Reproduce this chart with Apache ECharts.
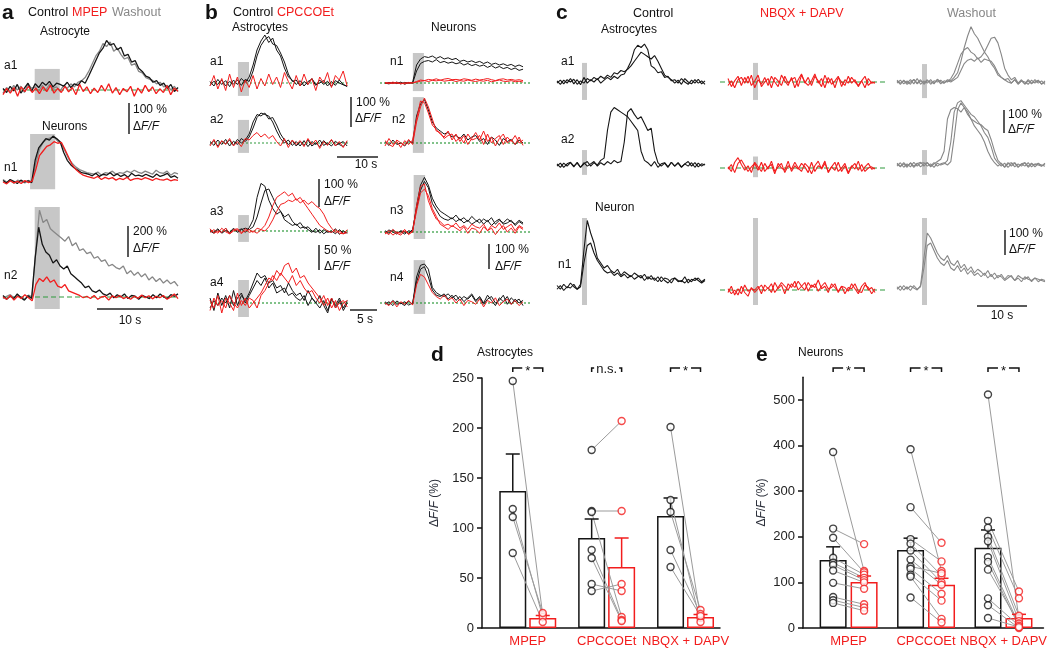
<!DOCTYPE html>
<html><head><meta charset="utf-8">
<script src="https://cdn.jsdelivr.net/npm/echarts@6/dist/echarts.min.js"></script>
<style>html,body{margin:0;padding:0;background:#fff}#c{width:1050px;height:663px}</style>
</head><body><div id="c"></div>
<script>
// ---------------- DATA: panel a (ΔF/F %, equally spaced samples) ----------------
const a_a1_wash=[-10,8,-5,15,0,12,-8,20,5,10,-5,15,0,18,5,10,-3,15,5,20,10,25,30,40,60,85,110,125,150,140,155,125,135,115,100,105,80,85,60,55,40,35,30,20,25,10,15,0,12,-5];
const a_a1_ctl=[5,-8,12,-3,18,-10,6,22,-5,20,8,25,15,28,10,22,18,12,25,8,20,15,30,22,45,70,95,120,135,160,145,150,130,138,110,115,90,95,70,60,45,40,25,30,15,22,5,18,-5,8];
const a_a1_mpep=[-15,5,-10,8,-20,10,-5,12,-8,6,-12,10,-5,15,-10,5,-8,12,-6,8,-15,18,-5,10,-12,6,-8,15,-4,20,-10,8,-15,5,-6,12,-20,6,-10,15,-5,10,-12,4,-8,14,-15,6,-4];
const a_n1_wash=[8,0,5,-4,6,2,-3,5,0,60,105,128,138,142,145,132,125,100,75,60,48,40,35,30,28,25,32,22,30,28,35,25,30,28,35,30,38,32,28,35,30,25,38,30,28,35,22,30,26];
const a_n1_ctl=[5,-3,8,2,-5,6,0,4,-2,70,110,125,140,135,148,140,130,95,70,55,45,38,30,28,25,20,28,18,25,22,30,20,26,18,24,15,28,20,22,18,25,20,15,26,18,22,28,15,20,12];
const a_n1_mpep=[0,-6,4,-3,2,-5,5,-2,3,40,85,100,115,120,130,125,128,105,80,55,40,30,22,18,15,12,18,8,15,10,14,6,12,8,15,5,10,12,8,14,10,5,12,8,6,10,4,8,5];
const a_n2_wash=[-10,5,15,-5,10,0,-15,12,0,300,560,480,500,440,420,400,380,360,390,330,350,300,310,280,290,250,260,230,240,200,210,190,180,200,150,170,140,160,130,150,110,130,100,120,90,110,85,100,70];
const a_n2_ctl=[10,-15,5,-10,20,-5,-20,8,-10,250,450,340,290,270,220,240,200,180,200,150,130,110,90,60,70,40,30,45,20,10,25,-5,15,0,20,-10,10,5,-15,10,0,-10,15,-5,20,0,-10,15,5,20];
const a_n2_mpep=[0,-15,10,-20,5,-10,15,-5,-25,80,120,100,130,95,110,70,60,80,40,30,20,10,-5,5,-10,10,-15,0,5,-20,8,-5,10,-10,0,-15,5,-8,12,-5,8,-12,5,-5,10,-15,0,20,-10];
// ---------------- DATA: panel b ----------------
const b_a1_ctl1=[5,-10,12,-5,8,-12,10,-5,15,2,20,60,110,140,160,135,150,110,90,50,20,10,-5,8,-10,5,12,-8,10,-5,6,-12,8,0,-6,-10];
const b_a1_ctl2=[-8,6,-5,10,-10,5,-3,10,-8,12,5,40,90,125,145,155,130,125,100,70,30,5,10,-10,5,-5,15,-5,0,8,-10,5,-8,10,-5,-12];
const b_a1_cpc=[-10,25,-20,15,-25,30,-15,20,-30,10,-15,25,-20,15,-10,30,-5,20,-15,35,5,-20,25,-10,30,-5,15,-25,20,0,35,-15,25,10,40,-10];
const b_a2_ctl1=[5,-8,10,-5,12,-10,6,-5,15,5,20,50,85,100,95,90,70,40,15,0,10,-8,5,-10,8,-12,5,-5,10,-8,0,-10,6,-5,-12,4];
const b_a2_ctl2=[-5,8,-10,6,-2,10,-8,12,0,10,30,70,95,90,100,80,85,60,30,10,-5,8,-10,5,-8,10,-10,0,-12,8,-5,10,-8,-2,5,-10];
const b_a2_cpc=[-10,12,-15,8,-5,15,-10,5,-12,15,10,25,35,20,30,15,25,5,-10,15,-15,10,-5,8,-12,15,-5,10,-18,5,-8,12,-10,5,-15,8];
const b_a3_ctl1=[0,-8,5,-5,10,-10,5,0,8,-5,12,40,120,170,160,110,80,60,70,40,30,20,25,10,15,5,-5,10,-8,5,-5,0,-10,5,-8,-5];
const b_a3_ctl2=[5,-5,8,-8,2,-5,10,-5,5,10,5,15,50,100,145,150,120,90,70,50,60,35,20,30,10,15,0,-5,5,-10,0,-5,8,-12,0,-8];
const b_a3_cpc1=[-5,5,-8,10,-3,-10,5,8,-5,0,5,-5,10,5,20,50,90,120,130,140,125,135,110,120,100,80,60,40,20,10,0,-5,5,-8,-10,-5];
const b_a3_cpc2=[8,-8,0,-5,10,-10,0,5,-10,8,-5,0,-8,5,0,15,40,70,95,100,110,105,115,100,110,95,105,90,80,60,30,10,-5,0,-10,5];
const b_a4_ctl1=[10,-15,20,-5,15,-10,25,-5,15,5,20,40,60,50,55,40,45,30,35,20,40,25,15,20,5,25,10,0,15,-5,-20,10,-10,5,-15,0];
const b_a4_ctl2=[-10,5,-5,10,0,15,-5,10,20,0,15,30,45,35,50,30,40,20,25,30,15,20,10,5,15,-5,10,0,-10,5,-15,8,-5,10,-10,5];
const b_a4_cpc1=[5,-10,15,-20,10,0,-15,20,-5,10,-10,0,10,20,35,50,45,65,55,75,80,60,70,50,55,40,30,20,10,-5,10,-10,5,-15,0,5];
const b_a4_cpc2=[-15,10,-5,5,-10,15,0,-10,5,-5,10,5,-10,15,25,40,55,45,60,50,40,55,35,45,30,20,25,10,0,15,-5,10,-10,0,5,-8];
const b_n1_ctl1=[0,-3,2,-2,3,-4,1,2,60,80,88,85,90,82,88,80,84,78,82,72,76,70,74,68,72,65,70,62,66,60,64,58,62,55,60,54];
const b_n1_ctl2=[-2,2,-1,3,-3,2,0,-1,40,65,72,75,70,78,68,72,66,70,64,68,60,65,58,62,56,60,52,58,50,55,48,52,45,50,42,46];
const b_n1_cpc1=[2,-2,3,-1,0,-3,2,0,5,10,8,12,10,14,9,13,15,11,12,10,14,12,9,13,10,12,15,11,8,12,14,10,12,9,11,8];
const b_n1_cpc2=[-1,1,-2,2,-3,1,-1,1,3,6,8,5,9,7,10,6,8,9,5,8,6,10,7,5,8,6,9,4,7,10,6,5,8,4,6,3];
const b_n2_ctl=[5,-8,10,-5,0,-10,8,0,90,130,145,110,70,50,40,30,35,20,25,15,30,10,20,25,5,15,-5,20,10,-8,15,5,12,-5,10,0];
const b_n2_cpc1=[-10,15,-5,5,-15,8,-5,10,80,140,135,100,60,45,30,20,40,10,30,5,25,-5,15,35,10,40,5,20,-10,15,30,0,10,-5,20,-8];
const b_n2_cpc2=[8,-5,-12,10,0,-8,12,-5,70,120,150,120,80,40,35,15,25,30,5,20,0,30,10,15,25,-5,30,0,15,25,-5,20,5,25,0,10];
const b_n3_ctl1=[5,-5,8,-3,2,-8,5,0,100,180,210,180,130,100,80,70,60,50,65,45,55,40,60,45,35,50,40,55,30,45,35,50,40,30,45,35];
const b_n3_ctl2=[-5,8,0,-8,5,0,-5,10,90,160,195,170,110,85,60,50,45,55,40,50,35,45,30,40,50,30,45,25,40,50,30,35,45,25,40,30];
const b_n3_cpc1=[0,-10,10,-5,-12,5,-8,0,100,175,185,120,80,50,40,25,30,20,35,15,25,10,30,20,15,30,5,25,15,35,10,20,30,5,25,15];
const b_n3_cpc2=[-8,5,-12,0,-5,10,-10,5,80,150,165,140,90,60,30,20,10,25,15,5,20,-5,15,10,-5,20,5,15,-10,10,25,0,15,-5,20,10];
const b_n4_ctl1=[5,-8,10,-5,0,-10,8,-5,100,145,150,130,60,40,30,25,35,20,30,10,25,15,30,5,20,-5,15,25,0,10,30,-5,20,5,15,-10];
const b_n4_ctl2=[-5,5,-10,8,-3,5,-8,0,80,130,140,100,50,30,25,35,15,30,10,25,5,20,35,10,25,0,30,10,-10,20,5,25,-5,15,0,10];
const b_n4_cpc=[0,-10,8,-15,5,-5,10,-8,70,110,100,70,40,25,15,30,10,20,0,15,-10,10,5,-5,15,-15,10,0,20,-10,5,15,-5,10,-10,5];
// ---------------- DATA: panel c ----------------
const c_a1_ctl1=[5,-10,8,-5,15,-8,10,-12,20,-5,10,0,15,-5,8,20,10,25,15,30,35,60,90,140,160,150,165,140,70,60,40,45,20,25,5,10,-5,15,0,-10,8,-5,12,-8,5];
const c_a1_ctl2=[-5,8,-8,10,0,12,-10,5,-5,15,5,20,10,25,15,30,20,40,35,50,45,55,70,90,110,130,120,110,100,115,90,60,30,20,10,-5,8,-10,15,0,-8,10,-5,5,-10];
const c_a1_nb1=[15,-20,5,25,-15,20,-5,30,-25,10,-10,20,-15,25,0,-20,30,5,-15,20,-25,10,35,-5,20,-15,25,5,-20,30,-5,15,-25,20,0,-15,25,-5,10,-20,5,25,-15,0,-5];
const c_a1_nb2=[-15,5,-25,10,20,-5,25,-15,5,30,-20,0,15,-25,20,5,-15,25,-5,10,20,-20,30,0,-15,5,35,-5,15,-25,20,-10,5,25,-20,10,-5,20,0,-15,5,-25,15,-5,0];
const c_a1_w1=[5,-10,8,-5,10,-8,15,-10,5,-5,10,-8,12,0,-5,10,5,20,40,90,150,200,240,210,190,160,130,110,80,60,30,20,10,15,-5,10,-10,5,-8,10,-5,0,8,-10,5];
const c_a1_w2=[-5,8,-8,5,-10,12,-5,10,-10,5,0,-5,10,-8,5,0,15,40,80,120,140,150,130,120,100,110,130,160,190,195,170,120,60,30,10,20,-5,10,-10,5,-8,10,-5,5,-10];
const c_a1_w3=[8,-5,5,-10,0,10,-8,5,-5,10,-10,5,0,8,-5,5,0,10,20,50,80,95,100,90,105,85,100,95,90,70,40,20,10,0,-5,10,-8,5,0,-10,8,-5,5,-8,0];
const c_a2_ctl1=[5,-10,8,-5,10,-8,12,-10,5,15,-5,10,0,20,30,150,230,250,240,230,220,210,190,170,150,60,20,10,-5,15,-10,5,10,-8,12,-5,8,-10,5,15,-5,10,-8,5,0];
const c_a2_ctl2=[-5,8,-10,5,12,-5,8,-10,10,-5,5,15,-5,10,0,15,5,20,10,15,100,230,245,220,200,210,180,150,160,60,10,-5,8,-10,12,-5,10,-8,5,-5,10,-10,8,-5,5];
const c_a2_nb1=[5,-15,25,45,15,-10,10,-20,25,5,-15,20,-5,30,-15,5,20,-20,10,-5,25,0,-15,20,5,-25,10,30,-5,20,-15,5,25,-15,0,20,-20,10,-5,30,-15,5,20,-5,0];
const c_a2_nb2=[-5,15,-20,20,35,10,-15,5,20,-10,25,-15,5,15,-25,20,0,-10,30,-15,10,-5,20,5,-20,25,-15,10,0,30,-20,5,-10,25,-15,10,-25,5,20,-10,15,-15,0,5,-5];
const c_a2_w1=[5,-8,10,-5,8,-10,5,12,-5,10,-8,5,15,25,60,200,240,250,245,230,250,220,200,170,150,130,100,60,30,10,-5,8,-10,5,10,-8,5,-5,10,-10,5,0,8,-5,5];
const c_a2_w2=[-5,10,-10,5,-8,12,-5,8,10,-5,5,-10,8,0,5,20,100,230,270,280,260,240,220,210,190,170,140,120,80,30,10,-5,8,-10,5,10,-8,5,-5,10,-8,5,0,-5,8];
const c_a2_w3=[8,-5,5,-10,10,-5,8,-8,5,10,-5,10,-5,5,10,0,15,120,240,270,250,230,200,190,180,175,160,150,110,60,20,5,-8,10,-5,8,-10,5,10,-5,8,-8,5,0,-5];
const c_n1_ctl1=[10,-5,15,0,20,5,-5,15,150,270,220,180,120,100,80,90,70,60,75,50,65,55,45,60,50,40,55,35,50,30,45,25,40,35,20,40,30,25,45,20,35,30,40,25,35];
const c_n1_ctl2=[-5,10,-10,5,0,15,-5,5,100,170,180,140,110,90,70,60,65,50,60,45,55,40,50,35,45,50,30,45,35,40,25,45,30,20,35,40,25,30,20,35,25,40,30,20,30];
const c_n1_nb1=[-10,15,-20,5,-15,20,-5,5,0,15,-15,20,5,25,-10,10,30,15,0,25,10,35,15,0,30,10,25,-5,15,30,5,10,25,-10,15,10,-5,25,5,-15,15,30,0,10,-10];
const c_n1_nb2=[5,-15,0,-20,15,-10,-25,10,-10,5,20,-5,10,-10,30,5,20,-15,25,10,35,0,15,30,-5,20,10,40,5,15,-10,25,10,-5,15,-15,10,5,25,-5,-10,20,10,-15,5];
const c_n1_w1=[5,-10,10,-5,8,0,-8,10,120,220,200,170,140,120,110,130,100,90,110,80,95,70,85,60,75,65,50,70,45,60,40,55,35,50,45,30,50,40,35,45,25,40,35,30,25];
const c_n1_w2=[-5,8,-8,5,-10,10,-5,5,80,170,180,150,120,100,90,110,80,70,90,65,80,55,70,50,60,45,60,40,55,35,50,45,30,40,50,30,40,25,45,35,30,40,25,35,30];
// ---------------- DATA: panels d, e ----------------
const groupNames=['MPEP','CPCCOEt','NBQX + DAPV'];
const dTicks=[0,50,100,150,200,250];
const dCtlMean=[137,90,112], dDrugMean=[10,61,11];
const dCtlErr=[174,109,130], dDrugErr=[12.5,90,13.5];
const dCtl=[[247,119,111,75],[178,117,116,78,70,44,37],[201,128,116,78,61]];
const dDrug=[[13,11,15,6],[207,117,11,8,7,37,44],[10,6,18,14,12]];
const dSig=['*','n.s.','*'];
const eTicks=[0,100,200,300,400,500];
const eCtlMean=[149,171,176], eDrugMean=[101,95,22];
const eCtlErr=[178,197,215], eDrugErr=[114,109,30];
const eCtl=[[386,218,198,154,143,138,126,99,68,61,55],[392,265,195,185,170,150,135,130,117,113,67],[512,235,220,200,190,155,145,128,65,50,22]];
const eDrug=[[125,184,122,117,110,105,100,86,52,45,38],[125,187,146,115,100,95,120,75,60,20,12],[20,80,65,27,15,8,3,10,5,0,2]];
const eSig=['*','*','*'];

// ---------------- BUILD ----------------
const FF='"Liberation Sans", Arial, Helvetica, sans-serif';
const K='#151515', R='#f21d1d', GY='#878787', GN='#2f9a3d', ST='#c7c7c7';
const grids=[], xAxes=[], yAxes=[], series=[], gfx=[];

function panel(o){
  const gi=grids.length;
  grids.push({left:o.x0,width:o.x1-o.x0,top:o.baseY-o.yMax*o.pxPer,height:(o.yMax-o.yMin)*o.pxPer});
  xAxes.push({gridIndex:gi,type:'value',min:o.t0,max:o.t1,show:false});
  yAxes.push({gridIndex:gi,type:'value',min:o.yMin,max:o.yMax,show:false});
  series.push({type:'line',xAxisIndex:gi,yAxisIndex:gi,z:1,silent:true,symbol:'none',
    data:o.base?[[o.t0,0],[o.t1,0]]:[[o.t0,0]],
    lineStyle:o.base?{color:GN,width:1.2,type:o.base==='dotted'?[2,2]:[5,3]}:{opacity:0},
    markArea:{silent:true,itemStyle:{color:o.stimColor||ST},data:[[{xAxis:o.stim[0],yAxis:o.stim[2]},{xAxis:o.stim[1],yAxis:o.stim[3]}]]}});
  o.traces.forEach(([arr,color])=>{
    const dt=o.dur/(arr.length-1);
    series.push({type:'line',xAxisIndex:gi,yAxisIndex:gi,z:3,symbol:'none',silent:true,
      lineStyle:{color,width:o.lw||1},data:arr.map((v,i)=>[i*dt,v])});
  });
}
// panel a
panel({x0:3,x1:178,t0:0,t1:26.5,dur:26.5,baseY:90,pxPer:0.31,yMin:-60,yMax:200,stim:[4.8,8.6,68,-32],base:'dashed',lw:1.3,traces:[[a_a1_wash,GY],[a_a1_ctl,K],[a_a1_mpep,R]]});
panel({x0:3,x1:178,t0:0,t1:26.5,dur:26.5,baseY:182,pxPer:0.31,yMin:-50,yMax:200,stim:[4.1,7.9,155,-23],base:null,lw:1.3,traces:[[a_n1_wash,GY],[a_n1_ctl,K],[a_n1_mpep,R]]});
panel({x0:3,x1:178,t0:0,t1:26.5,dur:26.5,baseY:297,pxPer:0.155,yMin:-100,yMax:620,stim:[4.8,8.6,580,-77],base:'dashed',lw:1.3,traces:[[a_n2_wash,GY],[a_n2_ctl,K],[a_n2_mpep,R]]});
// panel b
panel({x0:210,x1:350,t0:0,t1:34.1,dur:33.4,baseY:83,pxPer:0.30,yMin:-60,yMax:200,stim:[6.8,9.5,70,-43],base:'dotted',traces:[[b_a1_ctl1,K],[b_a1_ctl2,K],[b_a1_cpc,R]]});
panel({x0:210,x1:350,t0:0,t1:34.1,dur:33.4,baseY:143,pxPer:0.30,yMin:-60,yMax:150,stim:[6.8,9.5,77,-33],base:'dotted',traces:[[b_a2_ctl1,K],[b_a2_ctl2,K],[b_a2_cpc,R]]});
panel({x0:210,x1:350,t0:0,t1:25.9,dur:25.4,baseY:231,pxPer:0.28,yMin:-60,yMax:200,stim:[5.2,7.2,57,-39],base:'dotted',traces:[[b_a3_ctl1,K],[b_a3_ctl2,K],[b_a3_cpc1,R],[b_a3_cpc2,R]]});
panel({x0:210,x1:350,t0:0,t1:25.9,dur:25.4,baseY:303,pxPer:0.5,yMin:-40,yMax:110,stim:[5.2,7.2,46,-28],base:'dotted',traces:[[b_a4_ctl1,K],[b_a4_ctl2,K],[b_a4_cpc1,R],[b_a4_cpc2,R]]});
panel({x0:380,x1:530,t0:-1.22,t1:35.4,dur:33.7,baseY:83,pxPer:0.30,yMin:-40,yMax:130,stim:[6.8,9.5,100,-27],base:'dotted',traces:[[b_n1_ctl1,K],[b_n1_ctl2,K],[b_n1_cpc1,R],[b_n1_cpc2,R]]});
panel({x0:380,x1:530,t0:-1.22,t1:35.4,dur:33.7,baseY:143,pxPer:0.30,yMin:-50,yMax:180,stim:[6.8,9.5,153,-33],base:'dotted',traces:[[b_n2_ctl,K],[b_n2_cpc1,R],[b_n2_cpc2,R]]});
panel({x0:380,x1:530,t0:-1.22,t1:35.4,dur:33.7,baseY:232,pxPer:0.26,yMin:-50,yMax:240,stim:[7.0,9.8,219,-27],base:'dotted',traces:[[b_n3_ctl1,K],[b_n3_ctl2,K],[b_n3_cpc1,R],[b_n3_cpc2,R]]});
panel({x0:380,x1:530,t0:-1.22,t1:35.4,dur:33.7,baseY:303,pxPer:0.26,yMin:-50,yMax:180,stim:[7.0,9.8,165,-42],base:'dotted',traces:[[b_n4_ctl1,K],[b_n4_ctl2,K],[b_n4_cpc,R]]});
// panel c
const cCols=[{x0:557,x1:705,t0:0,t1:29.6,dur:29.6,base:null},{x0:720,x1:885,t0:-1.6,t1:31.4,dur:29.4,base:'dashed'},{x0:897,x1:1045,t0:0,t1:29.6,dur:29.6,base:null}];
const cRows=[{baseY:[82,82,82],pxPer:0.23,yMin:-80,yMax:260,stim:[[5,6,83,-78],[5,6,83,-78],[5,6,78,-70]],
  tr:[[[c_a1_ctl1,K],[c_a1_ctl2,K]],[[c_a1_nb1,R],[c_a1_nb2,R]],[[c_a1_w1,GY],[c_a1_w2,GY],[c_a1_w3,GY]]]},
 {baseY:[165,168,165],pxPer:0.23,yMin:-60,yMax:300,stim:[[5,6,65,-43],[5,6,50,-40],[5,6,65,-43]],
  tr:[[[c_a2_ctl1,K],[c_a2_ctl2,K]],[[c_a2_nb1,R],[c_a2_nb2,R]],[[c_a2_w1,GY],[c_a2_w2,GY],[c_a2_w3,GY]]]},
 {baseY:[288,290,288],pxPer:0.25,yMin:-70,yMax:300,stim:[[5,6,280,-68],[5,6,288,-60],[5,6,280,-68]],
  tr:[[[c_n1_ctl1,K],[c_n1_ctl2,K]],[[c_n1_nb1,R],[c_n1_nb2,R]],[[c_n1_w1,GY],[c_n1_w2,GY]]]}];
cRows.forEach(r=>cCols.forEach((c,j)=>panel({x0:c.x0,x1:c.x1,t0:c.t0,t1:c.t1,dur:c.dur,base:c.base,baseY:r.baseY[j],pxPer:r.pxPer,yMin:r.yMin,yMax:r.yMax,stim:r.stim[j],lw:1.1,traces:r.tr[j]})));

// bar panels
function barPanel(o){
  const gi=grids.length;
  grids.push({left:o.left,top:o.top,width:o.width,height:o.height});
  xAxes.push({gridIndex:gi,type:'value',min:o.xmin,max:o.xmax,
    axisLine:{show:true,onZero:false,lineStyle:{color:'#111',width:1.5}},axisTick:{show:false},splitLine:{show:false},
    axisLabel:{customValues:[0,1,2],formatter:v=>groupNames[Math.round(v)],color:R,fontSize:13,fontFamily:FF,margin:7}});
  yAxes.push({gridIndex:gi,type:'value',min:0,max:o.ymax,
    axisLine:{show:true,onZero:false,lineStyle:{color:'#111',width:1.5}},
    axisTick:{show:true,length:5,customValues:o.ticks,lineStyle:{color:'#111',width:1.5}},
    axisLabel:{customValues:o.ticks,color:'#222',fontSize:13,fontFamily:FF,margin:8},splitLine:{show:false},
    name:'{n|Δ}{i|F}{n|/}{i|F}{n| (%)}',nameLocation:'middle',nameGap:o.nameGap,nameRotate:90,
    nameTextStyle:{rich:{n:{fontSize:12,color:'#2b2f3a',fontFamily:FF},i:{fontSize:12,color:'#2b2f3a',fontFamily:FF,fontStyle:'italic'}}}});
  const xs=(g,s)=>g+s*o.off;
  const bars=[],errs=[],pairs=[],pc=[],pd=[],br=[];
  o.ctlMean.forEach((m,g)=>{
    bars.push({value:[xs(g,-1),m],itemStyle:{borderColor:K}});
    bars.push({value:[xs(g,1),o.drugMean[g]],itemStyle:{borderColor:R}});
    errs.push([xs(g,-1),m,o.ctlErr[g],0]);
    errs.push([xs(g,1),o.drugMean[g],o.drugErr[g],1]);
    o.ctl[g].forEach((v,i)=>{pc.push([xs(g,-1),v]);pd.push([xs(g,1),o.drug[g][i]]);pairs.push([xs(g,-1),v,xs(g,1),o.drug[g][i]]);});
    br.push([xs(g,-1),xs(g,1),o.brY,o.sig[g]==='*'?0:1]);
  });
  series.push({type:'bar',xAxisIndex:gi,yAxisIndex:gi,barWidth:27,z:2,silent:true,itemStyle:{color:'#fff',borderWidth:1.5},data:bars});
  series.push({type:'custom',xAxisIndex:gi,yAxisIndex:gi,z:3,silent:true,data:pairs,
    renderItem:(p,api)=>{const a=api.coord([api.value(0),api.value(1)]),b=api.coord([api.value(2),api.value(3)]);
      return {type:'line',shape:{x1:a[0],y1:a[1],x2:b[0],y2:b[1]},style:{stroke:'#9b9b9b',lineWidth:1}};}});
  series.push({type:'custom',xAxisIndex:gi,yAxisIndex:gi,z:4,silent:true,data:errs,
    renderItem:(p,api)=>{const x=api.value(0);const a=api.coord([x,api.value(1)]),b=api.coord([x,api.value(2)]);const c=api.value(3)?R:K;
      return {type:'group',children:[{type:'line',shape:{x1:a[0],y1:a[1],x2:b[0],y2:b[1]},style:{stroke:c,lineWidth:1.5}},
        {type:'line',shape:{x1:b[0]-7,y1:b[1],x2:b[0]+7,y2:b[1]},style:{stroke:c,lineWidth:1.5}}]};}});
  series.push({type:'scatter',xAxisIndex:gi,yAxisIndex:gi,z:5,silent:true,symbolSize:7,itemStyle:{color:'#fff',borderColor:K,borderWidth:1.4},data:pc});
  series.push({type:'scatter',xAxisIndex:gi,yAxisIndex:gi,z:5,silent:true,symbolSize:7,itemStyle:{color:'#fff',borderColor:R,borderWidth:1.4},data:pd});
  series.push({type:'custom',xAxisIndex:gi,yAxisIndex:gi,z:5,silent:true,clip:false,data:br,
    renderItem:(p,api)=>{const a=api.coord([api.value(0),api.value(2)]),b=api.coord([api.value(1),api.value(2)]);
      const star=api.value(3)===0;const lab=star?'*':'n.s.';const gap=star?11:25;const m=(a[0]+b[0])/2,y=a[1];
      return {type:'group',children:[
        {type:'polyline',shape:{points:[[a[0],y+4],[a[0],y],[m-gap/2,y]]},style:{stroke:'#111',lineWidth:1.5,fill:null}},
        {type:'polyline',shape:{points:[[b[0],y+4],[b[0],y],[m+gap/2,y]]},style:{stroke:'#111',lineWidth:1.5,fill:null}},
        {type:'text',x:m,y:star?y+3:y+1,style:{text:lab,align:'center',verticalAlign:'middle',fontSize:13,fontFamily:FF,fill:'#111'}}]};}});
}
barPanel({left:482,top:378,width:238,height:250,xmin:-0.58,xmax:2.437,ymax:250,ticks:dTicks,off:0.19,nameGap:41,
  ctlMean:dCtlMean,drugMean:dDrugMean,ctlErr:dCtlErr,drugErr:dDrugErr,ctl:dCtl,drug:dDrug,sig:dSig,brY:260});
barPanel({left:803,top:377.2,width:245,height:250.8,xmin:-0.589,xmax:2.516,ymax:550,ticks:eTicks,off:0.2,nameGap:35,
  ctlMean:eCtlMean,drugMean:eDrugMean,ctlErr:eCtlErr,drugErr:eDrugErr,ctl:eCtl,drug:eDrug,sig:eSig,brY:570});

// ---------------- texts & scale bars ----------------
function txt(x,y,t,o){o=o||{};const s=o.s||12,c=o.c||'#111';
  gfx.push({type:'text',x,y,silent:true,z:10,style:{text:t,fill:c,fontSize:s,fontFamily:FF,fontWeight:o.w||'normal',align:o.a||'left',verticalAlign:'middle',
    rich:{i:{fontStyle:'italic',fontSize:s,fontFamily:FF,fill:c}}}});}
function ln(x1,y1,x2,y2){gfx.push({type:'line',silent:true,z:10,shape:{x1,y1,x2,y2},style:{stroke:'#222',lineWidth:1.5}});}
const DF='Δ{i|F/F}';
// a
txt(2,13,'a',{s:21,w:'bold'}); txt(28,13,'Control',{s:12.5}); txt(72,13,'MPEP',{s:12.5,c:R}); txt(112,13,'Washout',{s:12.5,c:GY});
txt(40,32,'Astrocyte'); txt(4,66,'a1'); txt(42,127,'Neurons'); txt(4,168,'n1'); txt(4,276,'n2');
ln(129,103,129,134); txt(133,110,'100 %'); txt(133,127,DF);
ln(128,226,128,257); txt(133,232,'200 %'); txt(133,249,DF);
ln(97,309,163,309); txt(130,321,'10 s',{a:'center'});
// b
txt(205,13,'b',{s:21,w:'bold'}); txt(233,13,'Control',{s:12.5}); txt(277,13,'CPCCOEt',{s:12.5,c:R});
txt(232,28,'Astrocytes'); txt(431,28,'Neurons');
txt(210,62,'a1'); txt(210,120,'a2'); txt(210,212,'a3'); txt(210,283,'a4');
txt(390,62,'n1'); txt(392,120,'n2'); txt(390,211,'n3'); txt(390,278,'n4');
ln(351,97,351,127); txt(356,103,'100 %'); txt(355,119,DF);
ln(337,157,378,157); txt(366,165,'10 s',{a:'center'});
ln(319,179,319,207); txt(324,185,'100 %'); txt(324,202,DF);
ln(319,245,319,270); txt(324,251,'50 %'); txt(324,267,DF);
ln(350,310,377,310); txt(365,320,'5 s',{a:'center'});
ln(489,244,489,269); txt(495,250,'100 %'); txt(495,267,DF);
// c
txt(556,13,'c',{s:21,w:'bold'}); txt(633,14,'Control',{s:12.5}); txt(760,14,'NBQX + DAPV',{s:12.5,c:R}); txt(947,14,'Washout',{s:12.5,c:GY});
txt(601,30,'Astrocytes'); txt(561,62,'a1'); txt(561,140,'a2'); txt(595,208,'Neuron'); txt(558,265,'n1');
ln(1004,110,1004,133); txt(1008,115,'100 %'); txt(1008,130,DF);
ln(1005,230,1005,255); txt(1009,234,'100 %'); txt(1009,250,DF);
ln(977,306,1027,306); txt(1002,316,'10 s',{a:'center'});
// d, e
txt(431,355,'d',{s:21,w:'bold'}); txt(477,353,'Astrocytes');
txt(756,355,'e',{s:21,w:'bold'}); txt(798,353,'Neurons');

const chart=echarts.init(document.getElementById('c'));
chart.setOption({animation:false,backgroundColor:'#fff',grid:grids,xAxis:xAxes,yAxis:yAxes,series,graphic:gfx});
</script></body></html>
